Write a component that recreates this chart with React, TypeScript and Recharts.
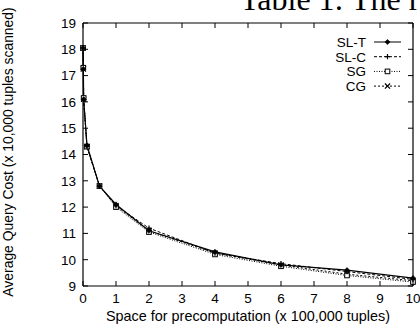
import { LineChart, Line, XAxis, YAxis } from "recharts";

// x positions (x 100,000 tuples)
const spaceValues = [0, 0.01, 0.02, 0.12, 0.5, 1, 2, 4, 6, 8, 10];

// average query cost (x 10,000 tuples scanned)
const slT = [18.05, 17.25, 16.1, 14.35, 12.8, 12.1, 11.1, 10.3, 9.8, 9.6, 9.3];
const slC = [18.05, 17.25, 16.1, 14.3, 12.8, 12.05, 11.2, 10.25, 9.85, 9.55, 9.25];
const sg = [18.05, 17.3, 16.15, 14.3, 12.8, 12.0, 11.05, 10.2, 9.75, 9.4, 9.15];
const cg = [18.05, 17.25, 16.1, 14.3, 12.8, 12.05, 11.1, 10.25, 9.8, 9.45, 9.2];

const xTicks = [0, 1, 2, 3, 4, 5, 6, 7, 8, 9, 10];
const yTicks = [9, 10, 11, 12, 13, 14, 15, 16, 17, 18, 19];

const seriesNames = ["SL-T", "SL-C", "SG", "CG"];

const data = spaceValues.map((x, i) => ({
  x,
  slT: slT[i],
  slC: slC[i],
  sg: sg[i],
  cg: cg[i],
}));

const FONT = "'Liberation Sans', Arial, sans-serif";

type Marker = "diamond" | "plus" | "square" | "cross";

const drawMarker = (kind: Marker, cx: number, cy: number, key?: any) => {
  const s = 2.6;
  if (kind === "diamond") {
    return (
      <path key={key} d={`M${cx},${cy - s} L${cx + s},${cy} L${cx},${cy + s} L${cx - s},${cy} Z`} fill="#000" stroke="#000" strokeWidth={0.6} />
    );
  }
  if (kind === "plus") {
    return (
      <path key={key} d={`M${cx - s},${cy} L${cx + s},${cy} M${cx},${cy - s} L${cx},${cy + s}`} stroke="#000" strokeWidth={1.2} fill="none" />
    );
  }
  if (kind === "square") {
    return (
      <rect key={key} x={cx - s + 0.3} y={cy - s + 0.3} width={2 * s - 0.6} height={2 * s - 0.6} fill="#fff" stroke="#000" strokeWidth={1} />
    );
  }
  return (
    <path key={key} d={`M${cx - s},${cy - s} L${cx + s},${cy + s} M${cx - s},${cy + s} L${cx + s},${cy - s}`} stroke="#000" strokeWidth={1.2} fill="none" />
  );
};

const markerDot = (kind: Marker) => (props: any) => {
  const { cx, cy, index } = props;
  if (cx == null || cy == null) return <g key={`d-${kind}-${index}`} />;
  return drawMarker(kind, cx, cy, `d-${kind}-${index}`);
};

// gnuplot-like inward ticks
const BottomTick = (props: any) => {
  const { x, y, payload } = props;
  return (
    <g>
      <line x1={x} y1={y} x2={x} y2={y - 5} stroke="#000" strokeWidth={1} />
      <text x={x} y={y + 17} textAnchor="middle" fontSize={13.5} fontFamily={FONT} fill="#000">
        {payload.value}
      </text>
    </g>
  );
};

const TopTick = (props: any) => {
  const { x, y } = props;
  return <line x1={x} y1={y} x2={x} y2={y + 5} stroke="#000" strokeWidth={1} />;
};

const LeftTick = (props: any) => {
  const { x, y, payload } = props;
  return (
    <g>
      <line x1={x} y1={y} x2={x + 5} y2={y} stroke="#000" strokeWidth={1} />
      <text x={x - 7} y={y} dy="0.36em" textAnchor="end" fontSize={13.5} fontFamily={FONT} fill="#000">
        {payload.value}
      </text>
    </g>
  );
};

const RightTick = (props: any) => {
  const { x, y } = props;
  return <line x1={x} y1={y} x2={x - 5} y2={y} stroke="#000" strokeWidth={1} />;
};

const legendStyles: { dash?: string; marker: Marker }[] = [
  { marker: "diamond" },
  { dash: "3 2", marker: "plus" },
  { dash: "1 1.5", marker: "square" },
  { dash: "2 2", marker: "cross" },
];

export default function App() {
  return (
    <div style={{ position: "absolute", left: 0, top: 0, width: 420, height: 328, background: "#fff" }}>
      <LineChart
        width={420}
        height={328}
        data={data}
        margin={{ top: 22, right: 6, bottom: 41, left: 82 }}
      >
        <XAxis
          xAxisId="bottom"
          dataKey="x"
          type="number"
          domain={[0, 10]}
          ticks={xTicks}
          height={1}
          tickSize={0}
          tickMargin={0}
          tickLine={false}
          axisLine={{ stroke: "#000", strokeWidth: 1.2 }}
          tick={<BottomTick />}
          interval={0}
        />
        <XAxis
          xAxisId="top"
          orientation="top"
          dataKey="x"
          type="number"
          domain={[0, 10]}
          ticks={xTicks}
          height={1}
          tickSize={0}
          tickMargin={0}
          tickLine={false}
          axisLine={{ stroke: "#000", strokeWidth: 1.2 }}
          tick={<TopTick />}
          interval={0}
        />
        <YAxis
          yAxisId="left"
          type="number"
          domain={[9, 19]}
          ticks={yTicks}
          width={1}
          tickSize={0}
          tickMargin={0}
          tickLine={false}
          axisLine={{ stroke: "#000", strokeWidth: 1.2 }}
          tick={<LeftTick />}
          interval={0}
          allowDataOverflow
        />
        <YAxis
          yAxisId="right"
          orientation="right"
          type="number"
          domain={[9, 19]}
          ticks={yTicks}
          width={1}
          tickSize={0}
          tickMargin={0}
          tickLine={false}
          axisLine={{ stroke: "#000", strokeWidth: 1.2 }}
          tick={<RightTick />}
          interval={0}
          allowDataOverflow
        />
        <Line xAxisId="bottom" yAxisId="left" type="linear" dataKey="cg" name="CG" stroke="#000" strokeWidth={1} strokeDasharray="2 2" dot={markerDot("cross")} isAnimationActive={false} />
        <Line xAxisId="bottom" yAxisId="left" type="linear" dataKey="sg" name="SG" stroke="#000" strokeWidth={1} strokeDasharray="1 1.5" dot={markerDot("square")} isAnimationActive={false} />
        <Line xAxisId="bottom" yAxisId="left" type="linear" dataKey="slC" name="SL-C" stroke="#000" strokeWidth={1} strokeDasharray="3 2" dot={markerDot("plus")} isAnimationActive={false} />
        <Line xAxisId="bottom" yAxisId="left" type="linear" dataKey="slT" name="SL-T" stroke="#000" strokeWidth={1.2} dot={markerDot("diamond")} isAnimationActive={false} />
      </LineChart>

      {/* overlay: clipped caption, axis titles and legend */}
      <svg width={420} height={328} style={{ position: "absolute", left: 0, top: 0, pointerEvents: "none" }}>
        <text x={240} y={10} fontSize={32} fontFamily="'Liberation Serif', serif" fill="#000">
          Table 1: The r
        </text>
        <text
          x={0}
          y={0}
          transform="translate(13,152) rotate(-90)"
          textAnchor="middle"
          fontSize={13.9}
          fontFamily={FONT}
          fill="#000"
        >
          Average Query Cost (x 10,000 tuples scanned)
        </text>
        <text x={248} y={321} textAnchor="middle" fontSize={14.4} fontFamily={FONT} fill="#000">
          Space for precomputation (x 100,000 tuples)
        </text>
        {seriesNames.map((name, i) => {
          const y = 42 + i * 14.7;
          const st = legendStyles[i];
          return (
            <g key={name}>
              <text x={366} y={y} dy="0.36em" textAnchor="end" fontSize={13.5} fontFamily={FONT} fill="#000">
                {name}
              </text>
              <line x1={374} y1={y} x2={401} y2={y} stroke="#000" strokeWidth={1} strokeDasharray={st.dash} />
              {drawMarker(st.marker, 387.5, y)}
            </g>
          );
        })}
      </svg>
    </div>
  );
}
